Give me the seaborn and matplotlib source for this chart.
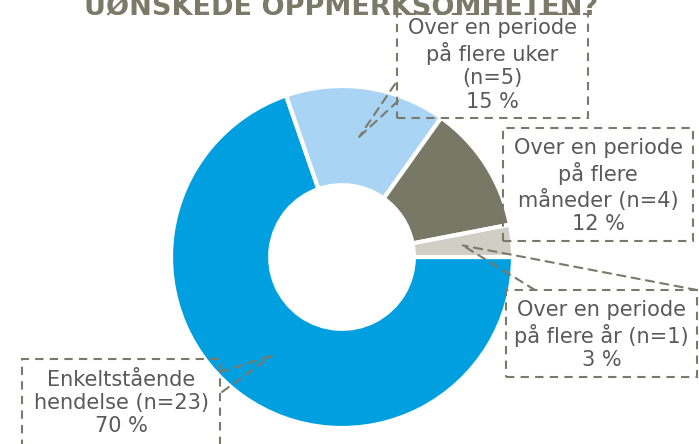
import numpy as np
import matplotlib
matplotlib.use('Agg')
import matplotlib.pyplot as plt
import seaborn as sns
from matplotlib.patches import Rectangle

sns.set_style('white')
plt.rcParams['font.family'] = ['DejaVu Sans']

title = 'UØNSKEDE OPPMERKSOMHETEN?'
categories = ['Enkeltstående\nhendelse (n=23)',
              'Over en periode\npå flere uker\n(n=5)',
              'Over en periode\npå flere\nmåneder (n=4)',
              'Over en periode\npå flere år (n=1)']
counts = [23, 5, 4, 1]
colors = ['#009FE0', '#A9D4F4', '#787866', '#CFCFC6']

W, H = 699, 444
text_col = '#595959'
line_col = '#7A7A6A'

# label boxes in pixels: x0, y0 (top), x1, y1 (bottom)
boxes = [(22, 359, 220, 452), (397, 14, 588, 118),
         (503, 128, 693, 241), (506, 290, 697, 377)]
# leader line ends on the boxes (pixels), None = no leader
leaders = [[(220, 372), (222, 392)], [(395, 84), (398, 101)],
           None, [(535, 290), (697, 290)]]


def fig_xy(x, y):
    return x / W, 1 - y / H


fig = plt.figure(figsize=(W / 100, H / 100), dpi=100)
ax = fig.add_axes([171 / W, 16 / H, 342 / W, 342 / H])
ring = 0.58
ax.pie(counts, colors=colors, startangle=0, counterclock=False, radius=1,
       wedgeprops=dict(width=ring, edgecolor='white', linewidth=3))
ax.set_xlim(-1, 1)
ax.set_ylim(-1, 1)
ax.axis('off')

total = sum(counts)
cum = np.cumsum([0] + counts[:-1])
for i, c in enumerate(counts):
    pct = f'{round(c / total * 100)} %'
    x0, y0, x1, y1 = boxes[i]
    fx0, fy1 = fig_xy(x0, y1)
    fx1, fy0 = fig_xy(x1, y0)
    fig.patches.append(Rectangle((fx0, fy1), fx1 - fx0, fy0 - fy1,
                                 transform=fig.transFigure, fill=False,
                                 edgecolor=line_col, linestyle=(0, (4, 3)),
                                 linewidth=1.5))
    lines_txt = categories[i] + '\n' + pct
    cy = {0: 403, 1: 65, 2: 186, 3: 335}[i]
    tx, ty = fig_xy((x0 + x1) / 2, cy)
    fig.text(tx, ty, lines_txt, ha='center', va='center', fontsize=15,
             color=text_col, linespacing=1.2)
    if leaders[i] is not None:
        theta = np.deg2rad(-360 * (cum[i] + c / 2) / total)
        r = 1 - ring / 2
        for px, py in leaders[i]:
            ax.annotate('', xy=(r * np.cos(theta), r * np.sin(theta)),
                        xycoords='data', xytext=fig_xy(px, py),
                        textcoords='figure fraction', annotation_clip=False,
                        arrowprops=dict(arrowstyle='-', linestyle=(0, (4, 3)),
                                        color=line_col, lw=1.5,
                                        shrinkA=0, shrinkB=0))

# title sits partly above the top edge, as in the original
tx, ty = fig_xy(341, 15.5)
fig.text(tx, ty, title, ha='center', va='baseline', fontsize=19.5,
         fontweight='bold', color='#7A7A68')

fig.savefig('out.png', dpi=100)
